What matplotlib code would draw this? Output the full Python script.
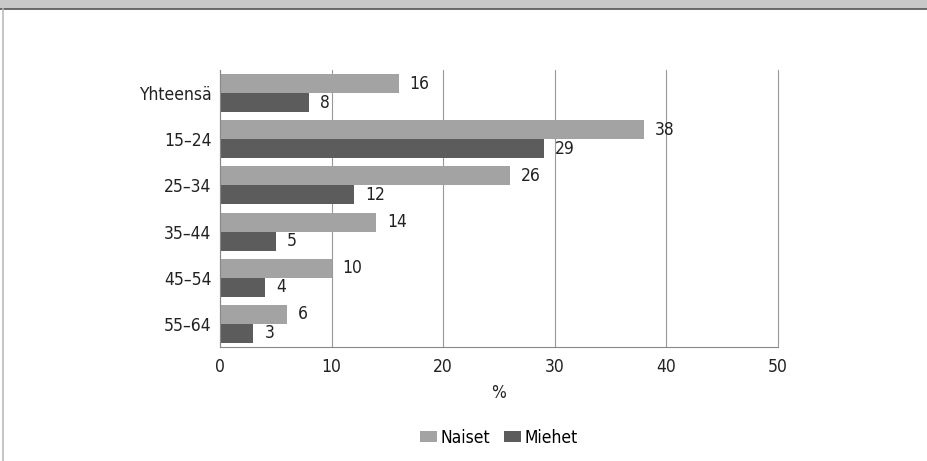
import numpy as np
import matplotlib
matplotlib.use("Agg")
import matplotlib.pyplot as plt
from matplotlib.patches import Rectangle
from matplotlib.lines import Line2D

categories = ["Yhteensä", "15–24", "25–34", "35–44", "45–54", "55–64"]
naiset = [16, 38, 26, 14, 10, 6]
miehet = [8, 29, 12, 5, 4, 3]
series_names = ["Naiset", "Miehet"]
xticks = [0, 10, 20, 30, 40, 50]

plt.rcParams['font.family'] = ['DejaVu Sans']
plt.rcParams['font.stretch'] = 'condensed'

c_nai = '#a3a3a3'
c_mie = '#5c5c5c'

fig = plt.figure(figsize=(9.28, 4.61), dpi=100)
ax = fig.add_axes([220/928, 1 - 347/461, (778-220)/928, (347-70)/461])

y = np.arange(len(categories))
h = 0.41
b1 = ax.barh(y - h/2, naiset, height=h, color=c_nai, label=series_names[0], zorder=2)
b2 = ax.barh(y + h/2, miehet, height=h, color=c_mie, label=series_names[1], zorder=2)

for bars, vals in ((b1, naiset), (b2, miehet)):
    for bar, v in zip(bars, vals):
        ax.annotate(str(v), xy=(v, bar.get_y() + bar.get_height()/2), xytext=(8, 0),
                    textcoords="offset points", va="center", ha="left", fontsize=12.5,
                    color='#222222', zorder=3)

ax.set_ylim(len(categories) - 0.5, -0.5)
ax.set_xlim(0, 50)
ax.set_xticks(xticks)
ax.set_yticks(y)
ax.set_yticklabels(categories)
ax.tick_params(axis='both', length=0, labelsize=12.5, colors='#222222')
ax.tick_params(axis='x', pad=8)
ax.tick_params(axis='y', pad=6)
ax.xaxis.grid(True, color='#999999', linewidth=0.8, zorder=0)
for gl in ax.get_xgridlines():
    gl.set_clip_on(False)
for s in ['top', 'right']:
    ax.spines[s].set_visible(False)
ax.spines['left'].set_color('#888888')
ax.spines['bottom'].set_color('#888888')
ax.spines['left'].set_zorder(4)
ax.set_xlabel('%', fontsize=12.5, color='#222222', labelpad=6)

ax.legend(loc='upper center', bbox_to_anchor=(0.5, -0.24), ncol=2, frameon=False,
          fontsize=12.5, handlelength=1.0, handleheight=0.6, handletextpad=0.2,
          columnspacing=0.8)

# frame decoration: gray band at top, thin border at left
fig.patches.append(Rectangle((0, 1 - 8/461), 1, 8/461, transform=fig.transFigure,
                             color='#c8c8c8', zorder=0))
fig.lines.append(Line2D([0, 1], [1 - 9/461, 1 - 9/461], transform=fig.transFigure,
                        color='#555555', linewidth=1.2))
fig.lines.append(Line2D([3/928, 3/928], [0, 1 - 9/461], transform=fig.transFigure,
                        color='#bbbbbb', linewidth=1.2))

fig.savefig("out.png", dpi=100)
